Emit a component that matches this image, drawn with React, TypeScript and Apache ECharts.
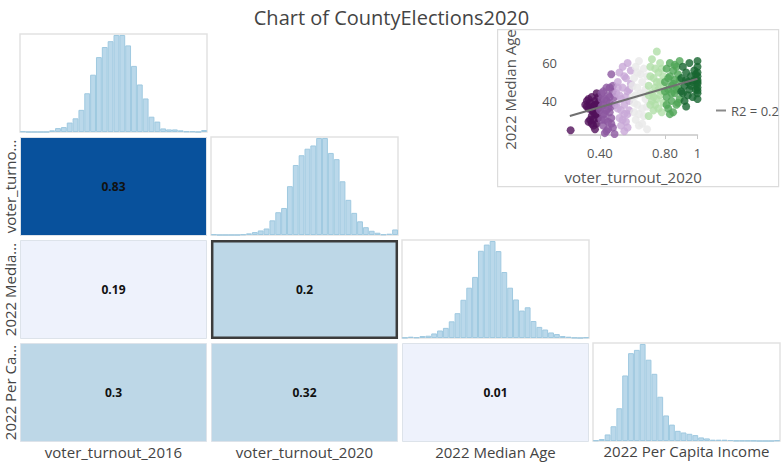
import React, { useEffect, useRef } from "react";
import * as echarts from "echarts";

const TITLE = "Chart of CountyElections2020";
const VARIABLES = ["voter_turnout_2016", "voter_turnout_2020", "2022 Median Age", "2022 Per Capita Income"];
const ROW_LABELS = ["voter_turno...", "2022 Media...", "2022 Per Ca..."];

// histogram bin counts (32 bins each)
const HIST_TURNOUT_2016 = [2, 0, 0, 0, 0, 5, 12, 15, 29, 42, 68, 119, 176, 230, 261, 279, 298, 298, 266, 203, 146, 103, 47, 32, 11, 8, 8, 5, 2, 2, 0, 6];
const HIST_TURNOUT_2020 = [2, 0, 0, 0, 0, 2, 5, 9, 14, 20, 45, 70, 83, 150, 215, 245, 265, 275, 298, 298, 252, 233, 165, 108, 68, 42, 24, 13, 7, 2, 4, 17];
const HIST_MEDIAN_AGE = [1, 4, 2, 6, 7, 14, 23, 31, 51, 76, 117, 154, 187, 267, 286, 297, 266, 202, 154, 118, 84, 94, 52, 34, 26, 17, 12, 6, 4, 1, 0, 2];
const HIST_INCOME = [2, 6, 20, 45, 100, 200, 268, 278, 296, 248, 205, 135, 78, 50, 31, 26, 22, 18, 11, 8, 4, 4, 4, 3, 1, 1, 1, 1, 0, 0, 0, 2];

// correlation cells: [column, row, r]
const CORRELATIONS = [
  [0, 0, 0.83],
  [0, 1, 0.19],
  [1, 1, 0.2],
  [0, 2, 0.3],
  [1, 2, 0.32],
  [2, 2, 0.01],
];
const SELECTED_CELL = [1, 1];
const CORR_BREAKS = [0.2, 0.4, 0.6, 0.8];
const CORR_COLORS = ["#eef2fc", "#bdd7e7", "#6baed6", "#3182bd", "#08519c"];

// scatter: voter_turnout_2020 vs 2022 Median Age
const SCATTER_POINTS = [
  [0.22, 24.5], [0.31, 38], [0.32, 40], [0.33, 36], [0.33, 41], [0.34, 39], [0.35, 35], [0.35, 42], [0.36, 37], [0.36, 30],
  [0.37, 33], [0.37, 40], [0.38, 44], [0.38, 28], [0.39, 36], [0.39, 31], [0.34, 30], [0.36, 27], [0.38, 38], [0.39, 42],
  [0.37, 25], [0.35, 32], [0.33, 29], [0.34, 37], [0.36, 34], [0.37, 38], [0.38, 33], [0.39, 39], [0.35, 28], [0.32, 37],
  [0.4, 35], [0.41, 30], [0.41, 44], [0.42, 38], [0.42, 27], [0.43, 41], [0.43, 33], [0.44, 47], [0.44, 24], [0.45, 36],
  [0.45, 29], [0.46, 42], [0.46, 39], [0.47, 54], [0.47, 31], [0.48, 45], [0.48, 26], [0.49, 38], [0.49, 22.5], [0.44, 40],
  [0.42, 45], [0.46, 34], [0.48, 48], [0.43, 23], [0.41, 37], [0.42, 33], [0.44, 35], [0.45, 43], [0.47, 37], [0.47, 28],
  [0.43, 30], [0.45, 25], [0.49, 42], [0.41, 41], [0.46, 47],
  [0.5, 44], [0.51, 36], [0.51, 50], [0.52, 31], [0.52, 55], [0.53, 41], [0.53, 27], [0.54, 47], [0.54, 58], [0.55, 38],
  [0.55, 33], [0.56, 52], [0.56, 29], [0.57, 45], [0.57, 60], [0.58, 40], [0.58, 35], [0.59, 49], [0.59, 56], [0.52, 43],
  [0.55, 24], [0.57, 26], [0.5, 38], [0.53, 35], [0.54, 30], [0.56, 42], [0.58, 46], [0.51, 47], [0.55, 53], [0.57, 33],
  [0.6, 42], [0.61, 52], [0.61, 34], [0.62, 58], [0.62, 30], [0.63, 47], [0.63, 38], [0.64, 61], [0.64, 27], [0.65, 44],
  [0.65, 54], [0.66, 36], [0.66, 50], [0.67, 32], [0.67, 57], [0.68, 41], [0.68, 46], [0.69, 25], [0.69, 53], [0.62, 43],
  [0.66, 28], [0.6, 48], [0.63, 55], [0.64, 33], [0.67, 44], [0.69, 37], [0.61, 39],
  [0.7, 48], [0.71, 38], [0.71, 58], [0.72, 44], [0.72, 62], [0.73, 35], [0.73, 52], [0.74, 47], [0.74, 57], [0.75, 66],
  [0.75, 41], [0.76, 55], [0.76, 36], [0.77, 50], [0.77, 60], [0.78, 45], [0.78, 34], [0.79, 53], [0.79, 39], [0.72, 40],
  [0.76, 46], [0.7, 32], [0.71, 53], [0.73, 42], [0.74, 38], [0.75, 50], [0.77, 43], [0.78, 57], [0.79, 48], [0.7, 43],
  [0.8, 50], [0.81, 42], [0.81, 57], [0.82, 46], [0.82, 36], [0.83, 53], [0.83, 60], [0.84, 40], [0.84, 48], [0.85, 56],
  [0.85, 34], [0.86, 44], [0.86, 51], [0.87, 38], [0.87, 58], [0.88, 47], [0.88, 54], [0.89, 41], [0.89, 61], [0.83, 33],
  [0.86, 59], [0.8, 45], [0.82, 52], [0.84, 44], [0.85, 49], [0.87, 46], [0.88, 39], [0.81, 38], [0.89, 51],
  [0.9, 52], [0.91, 44], [0.91, 58], [0.92, 48], [0.92, 40], [0.93, 55], [0.93, 37], [0.94, 50], [0.95, 46], [0.95, 60],
  [0.96, 53], [0.97, 42], [0.98, 56], [1, 41], [1, 44], [1, 47], [1, 49], [1, 51], [1, 53], [1, 55], [1, 58], [1, 61],
  [0.99, 46], [0.97, 50], [0.9, 45], [0.94, 43], [0.96, 48], [0.98, 51], [0.99, 54], [0.93, 51], [1, 45.5], [1, 50],
];
const SCATTER_BREAKS = [0.4, 0.5, 0.6, 0.7, 0.8, 0.9];
const SCATTER_COLORS = ["#51105a", "#8c57a0", "#c8a7d7", "#e8e8e8", "#b0dea7", "#4fa556", "#17652f"];
const TREND_LINE = [[0.215, 32], [1, 51.7]];
const TREND_LABEL = "R2 = 0.2";
const X_TICKS = [0.4, 0.8, 1];
const Y_TICKS = [40, 60];

const FONT = "'Segoe UI', 'Open Sans', sans-serif";

function classColor(v: number, breaks: number[], colors: string[]) {
  let i = 0;
  while (i < breaks.length && v >= breaks[i]) i++;
  return colors[i];
}

export default function App() {
  const ref = useRef<HTMLDivElement>(null);
  useEffect(() => {
    if (!ref.current) return;
    const chart = echarts.init(ref.current, undefined, { renderer: "svg" });

    const colLeft = [20, 211, 402, 593];
    const rowTop = [34, 137, 240, 343];
    const cellW = 187;
    const cellH = 98;
    const hists = [HIST_TURNOUT_2016, HIST_TURNOUT_2020, HIST_MEDIAN_AGE, HIST_INCOME];

    const grid: any[] = [];
    const xAxis: any[] = [];
    const yAxis: any[] = [];
    const series: any[] = [];

    hists.forEach((h, i) => {
      grid.push({
        left: colLeft[i], top: rowTop[i], width: cellW, height: cellH,
        show: true, backgroundColor: "#fff", borderColor: "#e2e2e2", borderWidth: 1.5,
      });
      xAxis.push({
        gridIndex: i, type: "category", data: h.map((_, k) => k),
        axisLine: { show: false }, axisTick: { show: false }, axisLabel: { show: false },
        splitLine: { show: false },
        ...(i === 3
          ? { name: VARIABLES[3], nameLocation: "middle", nameGap: 2,
              nameTextStyle: { fontSize: 15, color: "#444", fontFamily: FONT, verticalAlign: "top" } }
          : {}),
      });
      yAxis.push({
        gridIndex: i, type: "value", min: 0, max: (v: any) => v.max * 1.01,
        show: false, splitLine: { show: false },
      });
      series.push({
        type: "bar", xAxisIndex: i, yAxisIndex: i, data: h, barCategoryGap: "0%",
        itemStyle: { color: "#bad8ea", borderColor: "#9fc9e0", borderWidth: 1 },
        silent: true,
      });
    });

    // correlation grid (index 4)
    grid.push({ left: 18, top: 135, width: 573, height: 309 });
    xAxis.push({
      gridIndex: 4, type: "category", data: VARIABLES.slice(0, 3),
      axisLine: { show: false }, axisTick: { show: false }, splitLine: { show: false },
      axisLabel: { interval: 0, fontSize: 15, color: "#444", fontFamily: FONT, margin: 0 },
    });
    yAxis.push({
      gridIndex: 4, type: "category", data: ROW_LABELS, inverse: true,
      axisLine: { show: false }, axisTick: { show: false }, splitLine: { show: false },
      axisLabel: { interval: 0, fontSize: 15, color: "#444", fontFamily: FONT, rotate: 90, margin: 1 },
    });
    series.push({
      type: "custom", xAxisIndex: 4, yAxisIndex: 4, data: CORRELATIONS,
      encode: { x: 0, y: 1 },
      renderItem: (params: any, api: any) => {
        const cx = api.value(0);
        const cy = api.value(1);
        const v = api.value(2);
        const c = api.coord([cx, cy]);
        const s = api.size([1, 1]);
        const sel = cx === SELECTED_CELL[0] && cy === SELECTED_CELL[1];
        const inset = sel ? 3.2 : 2.5;
        return {
          type: "group",
          children: [
            {
              type: "rect",
              shape: { x: c[0] - s[0] / 2 + inset, y: c[1] - s[1] / 2 + inset, width: s[0] - 2 * inset, height: s[1] - 2 * inset },
              style: { fill: classColor(v, CORR_BREAKS, CORR_COLORS), stroke: sel ? "#3c3c3c" : "#dde3ea", lineWidth: sel ? 2.5 : 1 },
            },
            {
              type: "text",
              style: {
                text: String(v), x: c[0], y: c[1], align: "center", verticalAlign: "middle",
                fontSize: 12, fontWeight: "bold", fontFamily: FONT, fill: "#111",
              },
            },
          ],
        };
      },
    });

    // scatter grid (index 5)
    grid.push({ left: 569, top: 44, width: 128.5, height: 91 });
    xAxis.push({
      gridIndex: 5, type: "value", min: 0.21, max: 1,
      axisLine: { show: true, lineStyle: { color: "#c8c8c8", width: 1.5 } },
      axisTick: { show: true, customValues: X_TICKS, length: 4, lineStyle: { color: "#c8c8c8" } },
      axisLabel: {
        customValues: X_TICKS, fontSize: 13, color: "#555", fontFamily: FONT, margin: 11,
        formatter: (v: number) => (v === 1 ? "1" : v.toFixed(2)),
      },
      splitLine: { show: false },
      name: "voter_turnout_2020", nameLocation: "middle", nameGap: 34,
      nameTextStyle: { fontSize: 15, color: "#555", fontFamily: FONT },
    });
    yAxis.push({
      gridIndex: 5, type: "value", min: 22, max: 70,
      axisLine: { show: false }, axisTick: { show: false }, splitLine: { show: false },
      axisLabel: { customValues: Y_TICKS, fontSize: 13, color: "#555", fontFamily: FONT, margin: 12 },
      name: "2022 Median Age", nameLocation: "middle", nameRotate: 90, nameGap: 52,
      nameTextStyle: { fontSize: 15, color: "#555", fontFamily: FONT },
    });
    series.push({
      type: "scatter", xAxisIndex: 5, yAxisIndex: 5, data: SCATTER_POINTS, symbolSize: 8,
      itemStyle: {
        color: (p: any) => classColor(p.value[0], SCATTER_BREAKS, SCATTER_COLORS),
        opacity: 0.8,
      },
      silent: true,
    });
    series.push({
      type: "line", name: TREND_LABEL, xAxisIndex: 5, yAxisIndex: 5, data: TREND_LINE,
      showSymbol: false, symbol: "none", lineStyle: { color: "#707070", width: 2 },
      itemStyle: { color: "#8a8a8a" }, z: 5, silent: true,
    });

    chart.setOption({
      animation: false,
      backgroundColor: "#fff",
      title: {
        text: TITLE, left: "center", top: 2,
        textStyle: { fontSize: 20, fontWeight: "normal", color: "#444", fontFamily: FONT },
      },
      legend: {
        data: [{ name: TREND_LABEL, icon: "rect" }], left: 711, top: 99, orient: "vertical",
        itemWidth: 10, itemHeight: 2, itemGap: 6,
        textStyle: { fontSize: 13, color: "#555", fontFamily: FONT },
      },
      graphic: [
        {
          type: "rect", left: 497, top: 29, z: -10,
          shape: { width: 281, height: 157 },
          style: { fill: "#fff", stroke: "#dcdcdc", lineWidth: 1.2 },
        },
      ],
      grid, xAxis, yAxis, series,
    });
    return () => chart.dispose();
  }, []);
  return <div ref={ref} style={{ position: "fixed", left: 0, top: 0, width: 783, height: 464 }} />;
}
